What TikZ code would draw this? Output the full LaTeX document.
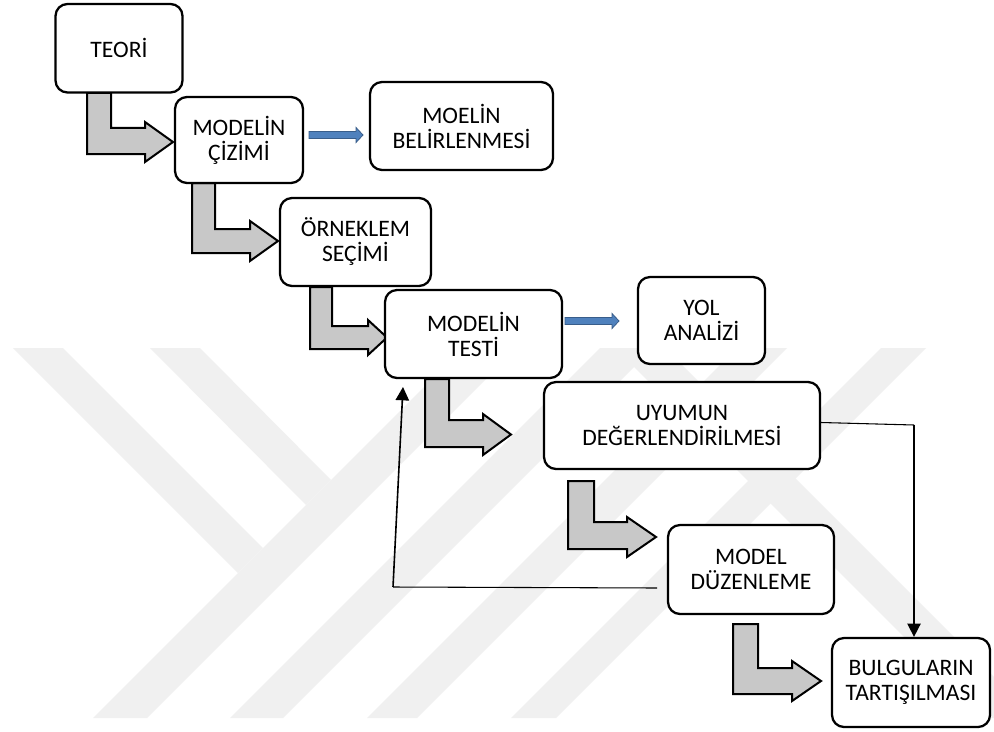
\documentclass[tikz,border=0pt]{standalone}
\usepackage{fontspec}
\setmainfont{Carlito}
\usetikzlibrary{arrows.meta}
\definecolor{wm}{HTML}{F0F0F0}
\definecolor{fatgray}{HTML}{C8C8C8}
\definecolor{blfill}{HTML}{4F81BD}
\definecolor{bldraw}{HTML}{385D8A}
\newcommand\fatL[9]{\draw[fat] (#1,#3) -- (#2,#3) -- (#2,#4) -- (#6,#4) -- (#6,#7) -- ({#9},{(#7+#8)/2}) -- (#6,#8) -- (#6,#5) -- (#1,#5) -- cycle;}
\begin{document}
\begin{tikzpicture}[x=0.75pt,y=-0.75pt,
 stepbox/.style 2 args={draw=black, line width=1.7pt, rounded corners=9pt, fill=white, align=center, inner sep=0pt,
   minimum width=#1*0.75pt, minimum height=#2*0.75pt, font=\fontsize{17.7pt}{18.75pt}\selectfont},
 fat/.style={fill=fatgray, draw=black, line width=1.5pt, line join=miter},
 bluearr/.style={fill=blfill, draw=bldraw, line width=0.6pt},
 wmark/.style={fill=wm, draw=none},
 conn/.style={draw=black, line width=1.2pt},
 thinconn/.style={draw=black, line width=0.8pt},
 arrowend/.style={-{Triangle[width=10pt,length=10pt]}}
]
\useasboundingbox (0,0) rectangle (994,731);
\fill[white] (0,0) rectangle (994,731);

% watermark
\fill[wmark] (13,348) -- (63,348) -- (263,548) -- (238,573) -- cycle;
\fill[wmark] (150,348) -- (200,348) -- (331,480) -- (306,505) -- cycle;
\fill[wmark] (93,718) -- (147,718) -- (517,348) -- (463,348) -- cycle;
\fill[wmark] (230,718) -- (283,718) -- (653,348) -- (600,348) -- cycle;
\fill[wmark] (367,718) -- (417,718) -- (787,348) -- (737,348) -- cycle;
\fill[wmark] (511,718) -- (556,718) -- (926,348) -- (881,348) -- cycle;
\fill[wmark] (615,348) -- (665,348) -- (1035,718) -- (985,718) -- cycle;

% fat L arrows
\fatL{87}{111}{93}{128}{154}{145}{122}{162}{173}
\fatL{192}{215}{183}{229}{253}{250}{221}{261}{278}
\fatL{310}{332}{287}{326}{349}{368}{320}{355}{387}
\fatL{425}{449}{379}{420}{447}{483}{414}{455}{511}
\fatL{568}{594}{481}{522}{549}{627}{517}{557}{656}
\fatL{733}{758}{624}{668}{694}{792}{661}{701}{821}

% boxes
\node[stepbox={127}{88.5}] (teori) at (119,48.25) {TEORİ};
\node[stepbox={128}{86}] (cizim) at (239,140) {MODELİN\\ÇİZİMİ};
\node[stepbox={183}{88}] (moelin) at (461.5,126) {MOELİN\\BELİRLENMESİ};
\node[stepbox={151}{88}] (orneklem) at (355.5,242) {ÖRNEKLEM\\SEÇİMİ};
\node[stepbox={177}{88}] (testi) at (473.5,334) {MODELİN\\TESTİ};
\node[stepbox={127}{87}] (yol) at (701.5,320.5) {YOL\\ANALİZİ};
\node[stepbox={276}{87}] (uyum) at (682,425.5) {UYUMUN\\DEĞERLENDİRİLMESİ};
\node[stepbox={166}{89}] (duzen) at (751,569.5) {MODEL\\DÜZENLEME};
\node[stepbox={158}{89}] (bulgu) at (911,682.5) {BULGULARIN\\TARTIŞILMASI};

% blue arrows
\draw[bluearr] (309,131.5) -- (356,131.5) -- (356,127.5) -- (363,135) -- (356,142.5) -- (356,138.5) -- (309,138.5) -- cycle;
\draw[bluearr] (565,317.5) -- (612,317.5) -- (612,313.5) -- (619,321) -- (612,328.5) -- (612,324.5) -- (565,324.5) -- cycle;

% connectors
\coordinate (c1) at (914,425);
\draw[thinconn] ([yshift=2.25pt]uyum.east) -- (c1);
\draw[conn,arrowend] (c1) -- (c1 |- bulgu.north);
\coordinate (c3) at (657,588);
\coordinate (c2) at (393,587);
\coordinate (c4) at (403,387);
\draw[thinconn] (c3) -- (c2);
\draw[conn,arrowend] (c2) -- (c4);
\end{tikzpicture}
\end{document}
